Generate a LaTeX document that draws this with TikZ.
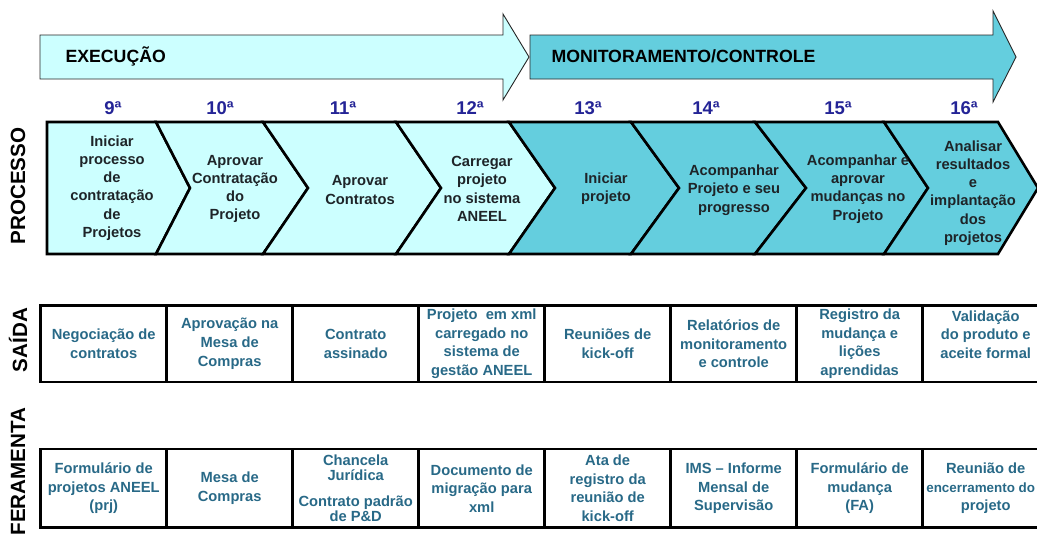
\documentclass[tikz,border=0pt]{standalone}
\usepackage{fontspec}
\setmainfont{Liberation Sans}
\usepackage{tikz}

\definecolor{execfill}{RGB}{204,255,255}
\definecolor{monfill}{RGB}{100,206,222}
\definecolor{stepnum}{RGB}{36,36,150}
\definecolor{celltext}{RGB}{40,105,135}
\definecolor{chevtext}{RGB}{30,36,40}

\begin{document}
\begin{tikzpicture}[
		x=1pt, y=-1pt,
		every node/.style={font=\bfseries},
		phase/.style={draw=black!85, line width=0.9pt},
		chev/.style={draw=black, line width=2.6pt, line join=miter},
		stage/.style={align=center, text=chevtext, inner sep=0pt, font=\bfseries\fontsize{14.7}{18.3}\selectfont},
		num/.style={text=stepnum, font=\bfseries\fontsize{18.5}{20}\selectfont},
		rowname/.style={rotate=90, font=\bfseries\fontsize{20.6}{22}\selectfont},
		cell/.style={draw=black, line width=2.6pt, minimum width=126pt, align=center, text=celltext, inner sep=0pt, font=\bfseries\fontsize{14.7}{18.6}\selectfont},
		outcell/.style={cell, minimum height=76.5pt},
		toolcell/.style={cell, minimum height=78.6pt}
	]
  \path[use as bounding box] (0,0) rectangle (1037,538);
  \clip (0,0) rectangle (1037,538);

  \draw[phase, fill=execfill] (40,35) -- (503,35) -- (503,14) -- (529,57) -- (503,100) -- (503,79) -- (40,79) -- cycle;
  \draw[phase, fill=monfill] (530,35) -- (993,35) -- (993,11) -- (1016,57) -- (993,102) -- (993,79) -- (530,79) -- cycle;
  \node (exec) [anchor=base west, font=\bfseries\fontsize{17.7}{20}\selectfont] at (62,62) {EXECUÇÃO};
  \node (mon) [anchor=base west, font=\bfseries\fontsize{17.7}{20}\selectfont] at (548,62) {MONITORAMENTO/CONTROLE};

  \node (n_9) [num] at (113,108) {9ª};
  \node (n_10) [num] at (220,108) {10ª};
  \node (n_11) [num] at (343,108) {11ª};
  \node (n_12) [num] at (470,108) {12ª};
  \node (n_13) [num] at (588,108) {13ª};
  \node (n_14) [num] at (706,108) {14ª};
  \node (n_15) [num] at (838,108) {15ª};
  \node (n_16) [num] at (964,108) {16ª};

  \draw[chev, fill=execfill] (47,122) -- (156,122) -- (190,188) -- (156,254) -- (47,254) -- cycle;
  \draw[chev, fill=execfill] (156,122) -- (263,122) -- (308,188) -- (263,254) -- (156,254) -- (190,188) -- cycle;
  \draw[chev, fill=execfill] (263,122) -- (396,122) -- (441,188) -- (396,254) -- (263,254) -- (308,188) -- cycle;
  \draw[chev, fill=execfill] (396,122) -- (509,122) -- (555,188) -- (509,254) -- (396,254) -- (441,188) -- cycle;
  \draw[chev, fill=monfill] (509,122) -- (631,122) -- (679,188) -- (631,254) -- (509,254) -- (555,188) -- cycle;
  \draw[chev, fill=monfill] (631,122) -- (755,122) -- (806,188) -- (755,254) -- (631,254) -- (679,188) -- cycle;
  \draw[chev, fill=monfill] (755,122) -- (884,122) -- (928,188) -- (884,254) -- (755,254) -- (806,188) -- cycle;
  \draw[chev, fill=monfill] (884,122) -- (998,122) -- (1038,188) -- (998,254) -- (884,254) -- (928,188) -- cycle;

  \node (p_9) [stage] at (112,188) {Iniciar\\processo\\de\\contratação\\de\\Projetos};
  \node (p_10) [stage] at (235,189) {Aprovar\\Contratação\\do\\Projeto};
  \node (p_11) [stage] at (360,190) {Aprovar\\Contratos};
  \node (p_12) [stage] at (482,189) {Carregar\\projeto\\no sistema\\ANEEL};
  \node (p_13) [stage] at (606,189) {Iniciar\\projeto};
  \node (p_14) [stage] at (734,190) {Acompanhar\\Projeto e seu\\progresso};
  \node (p_15) [stage] at (858,189) {Acompanhar e\\aprovar\\mudanças no\\Projeto};
  \node (p_16) [stage] at (973,193) {Analisar\\resultados\\e\\implantação\\dos\\projetos};

  \node (processo) [rowname] at (18,186) {PROCESSO};
  \node (saida) [rowname] at (18,340) {SAÍDA};
  \node (ferramenta) [rowname] at (18,471.5) {FERAMENTA};

  \node (s_9) [outcell] at (103.7,343.8) {Negociação de\\contratos};
  \node (s_10) [outcell] at (229.7,343.8) {Aprovação na\\Mesa de\\Compras};
  \node (s_11) [outcell] at (355.7,343.8) {Contrato\\assinado};
  \node (s_12) [outcell] at (481.7,343.8) {Projeto\ \ em xml\\carregado no\\sistema de\\gestão ANEEL};
  \node (s_13) [outcell] at (607.7,343.8) {Reuniões de\\kick-off};
  \node (s_14) [outcell] at (733.7,343.8) {Relatórios de\\monitoramento\\e controle};
  \node (s_15) [outcell] at (859.7,343.8) {Registro da\\mudança e\\lições\\aprendidas};
  \node (s_16) [outcell] at (985.7,343.8) {Validação\\do produto e\\aceite formal\\\mbox{}};

  \node (f_9) [toolcell] at (103.7,488.3) {Formulário de\\projetos ANEEL\\(prj)};
  \node (f_10) [toolcell] at (229.7,488.3) {Mesa de\\Compras};
  \node (f_11) [toolcell, font=\bfseries\fontsize{14.7}{15}\selectfont] at (355.7,488.3) {Chancela\\Jurídica\\[11pt]Contrato padrão\\de P\&D};
  \node (f_12) [toolcell] at (481.7,488.3) {Documento de\\migração para\\xml};
  \node (f_13) [toolcell] at (607.7,488.3) {Ata de\\registro da\\reunião de\\kick-off};
  \node (f_14) [toolcell] at (733.7,488.3) {IMS -- Informe\\Mensal de\\Supervisão};
  \node (f_15) [toolcell] at (859.7,488.3) {Formulário de\\mudança\\(FA)};
  \node (f_16) [toolcell] at (985.7,488.3) {Reunião de\\{\fontsize{13.4}{18.6}\selectfont\hspace*{-10pt}encerramento do}\\projeto};
\end{tikzpicture}
\end{document}
